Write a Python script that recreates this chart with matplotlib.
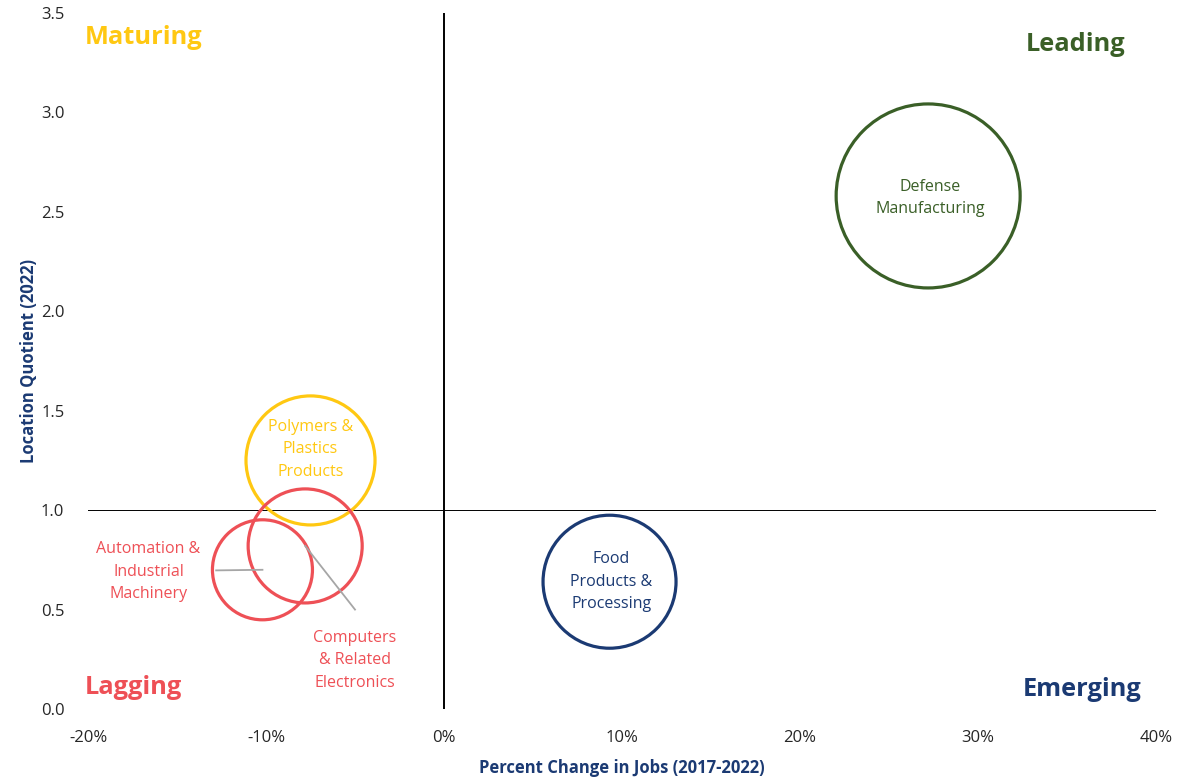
import matplotlib
matplotlib.use("Agg")
import matplotlib.pyplot as plt
from matplotlib.ticker import FuncFormatter
import numpy as np

plt.rcParams['font.family'] = ['Open Sans', 'DejaVu Sans']

# Industry clusters
clusters = ["Defense\nManufacturing", "Polymers &\nPlastics\nProducts",
            "Computers\n& Related\nElectronics", "Automation &\nIndustrial\nMachinery",
            "Food\nProducts &\nProcessing"]
job_change = [27.2, -7.5, -7.8, -10.2, 9.3]          # % change in jobs 2017-2022
location_quotient = [2.58, 1.25, 0.82, 0.70, 0.64]   # LQ 2022
employment = [8460, 4160, 3250, 2500, 4420]          # relative cluster size

x_ticks = [-20, -10, 0, 10, 20, 30, 40]
y_ticks = [0.0, 0.5, 1.0, 1.5, 2.0, 2.5, 3.0, 3.5]

GREEN = "#3A5F27"
GOLD = "#FFC812"
RED = "#EE5056"
NAVY = "#1B3A73"
edge_colors = [GREEN, GOLD, RED, RED, NAVY]

fig = plt.figure(figsize=(11.91, 7.78), dpi=100)
ax = fig.add_axes([0.0739, 0.0887, 0.8967, 0.8946])
ax.set_xlim(-20, 40)
ax.set_ylim(0, 3.5)

# bubble area proportional to employment
emp = np.array(employment, dtype=float)
sizes = emp / emp.max() * (2 * 92 * 0.72) ** 2
ax.scatter(job_change, location_quotient, s=sizes, facecolors="none",
           edgecolors=edge_colors, linewidths=2.3, zorder=3)

# quadrant dividers
ax.axvline(0, color="black", lw=1.4, zorder=1)
ax.axhline(1.0, color="black", lw=0.7, zorder=1)

lbl = dict(ha="center", va="center", fontsize=11.5, linespacing=1.55, zorder=4)

# labels inside bubbles
ax.text(job_change[0] + 0.1, location_quotient[0] - 0.01, clusters[0], color=GREEN, **lbl)
ax.text(job_change[1], location_quotient[1] + 0.055, clusters[1], color=GOLD, **lbl)
ax.text(job_change[4] + 0.1, location_quotient[4] + 0.0, clusters[4], color=NAVY, **lbl)

# callouts for overlapping bubbles
ax.text(-16.6, 0.69, clusters[3], color=RED, **lbl)
ax.plot([job_change[3] - 2.6, job_change[3]],
        [location_quotient[3] - 0.003, location_quotient[3]],
        color="#A6A6A6", lw=1.3, zorder=4)
ax.text(-5.0, 0.245, clusters[2], color=RED, **lbl)
ax.plot([job_change[2], -5.0], [location_quotient[2], 0.50],
        color="#A6A6A6", lw=1.3, zorder=4)

# quadrant names
qkw = dict(fontsize=18.3, fontweight="bold", va="center")
ax.text(-20.2, 3.375, "Maturing", color=GOLD, ha="left", **qkw)
ax.text(38.3, 3.34, "Leading", color=GREEN, ha="right", **qkw)
ax.text(-20.2, 0.11, "Lagging", color=RED, ha="left", **qkw)
ax.text(39.2, 0.10, "Emerging", color=NAVY, ha="right", **qkw)

ax.set_xticks(x_ticks)
ax.set_yticks(y_ticks)
ax.xaxis.set_major_formatter(FuncFormatter(lambda v, p: f"{v:.0f}%"))
ax.yaxis.set_major_formatter(FuncFormatter(lambda v, p: f"{v:.1f}"))
ax.tick_params(axis="both", length=0, labelsize=12, labelcolor="#262626")
ax.tick_params(axis="x", pad=15)
ax.tick_params(axis="y", pad=17)
for s in ax.spines.values():
    s.set_visible(False)

ax.set_xlabel("Percent Change in Jobs (2017-2022)", fontsize=12, fontweight="bold",
              color=NAVY, labelpad=9.5)
ax.set_ylabel("Location Quotient (2022)", fontsize=12, fontweight="bold",
              color=NAVY, labelpad=2)

fig.savefig("out.png", dpi=100)
